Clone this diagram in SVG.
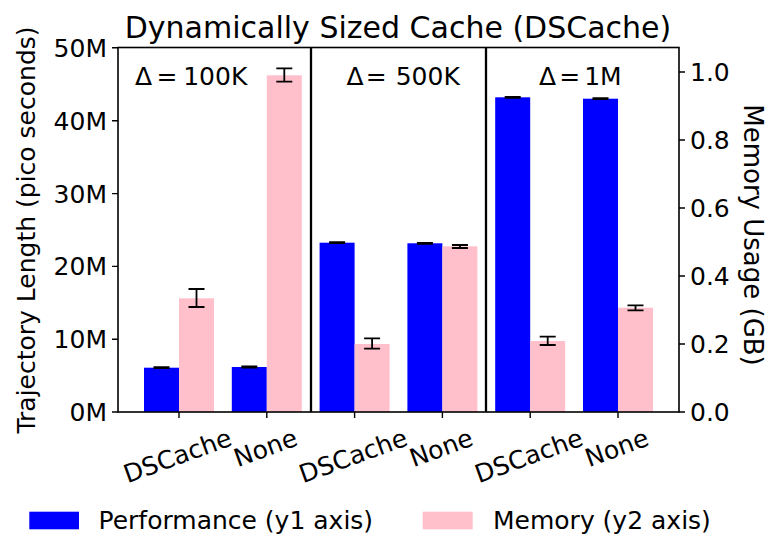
<svg xmlns="http://www.w3.org/2000/svg" width="767" height="534" viewBox="0 0 767 534">
<style>
text { font-family: "DejaVu Sans", "Liberation Sans", sans-serif; fill: #000; }
.t25 { font-size: 25px; }
.title { font-size: 30px; }
.perf { fill: #0000ff; }
.mem { fill: #ffc0cb; }
.err { stroke: #000; stroke-width: 1.8; fill: none; }
.errb { stroke: #000; stroke-width: 2.8; fill: none; }
.spine { stroke: #000; stroke-width: 1.6; fill: none; }
.div { stroke: #000; stroke-width: 2.3; }
.tick { stroke: #000; stroke-width: 1.4; }
</style>
<rect x="0" y="0" width="767" height="534" fill="#fff"/>

<g id="bars">
  <g id="g100k">
    <rect class="perf" x="144" y="367.7" width="35" height="44.3"/>
    <rect class="mem" x="179" y="298.3" width="35" height="113.7"/>
    <rect class="perf" x="231.8" y="367" width="35" height="45"/>
    <rect class="mem" x="266.8" y="75.3" width="35" height="336.7"/>
  </g>
  <g id="g500k">
    <rect class="perf" x="319.6" y="242.7" width="35" height="169.3"/>
    <rect class="mem" x="354.6" y="344" width="35" height="68"/>
    <rect class="perf" x="407.4" y="243.3" width="35" height="168.7"/>
    <rect class="mem" x="442.4" y="246.3" width="35" height="165.7"/>
  </g>
  <g id="g1m">
    <rect class="perf" x="495.2" y="97.3" width="35" height="314.7"/>
    <rect class="mem" x="530.2" y="341" width="35" height="71"/>
    <rect class="perf" x="583" y="98.7" width="35" height="313.3"/>
    <rect class="mem" x="618" y="307.7" width="35" height="104.3"/>
  </g>
</g>

<g id="errorbars">
  <path class="errb" d="M153.5 367.7H169.5M241.3 367H257.3M329.1 242.7H345.1M416.9 243.3H432.9M504.7 97.3H520.7M592.5 98.7H608.5"/>
  <path class="err" d="M196.5 289V307M188.5 289H204.5M188.5 307H204.5"/>
  <path class="err" d="M284.3 68.3V81.7M276.3 68.3H292.3M276.3 81.7H292.3"/>
  <path class="err" d="M372.1 338.3V348.7M364.1 338.3H380.1M364.1 348.7H380.1"/>
  <path class="err" d="M459.9 245V248M451.9 245H467.9M451.9 248H467.9"/>
  <path class="err" d="M547.7 336.7V345M539.7 336.7H555.7M539.7 345H555.7"/>
  <path class="err" d="M635.5 305.3V310.3M627.5 305.3H643.5M627.5 310.3H643.5"/>
</g>

<g id="axes">
  <rect class="spine" x="118" y="47.5" width="561" height="364.5"/>
  <line class="div" x1="311" y1="47.5" x2="311" y2="412"/>
  <line class="div" x1="486" y1="47.5" x2="486" y2="412"/>
  <path class="tick" d="M112 412H118M112 339.3H118M112 266.4H118M112 193.6H118M112 120.7H118M112 47.8H118"/>
  <path class="tick" d="M679 412H685M679 344H685M679 276H685M679 208H685M679 140H685M679 72H685"/>
  <path class="tick" d="M179 412V418M266.8 412V418M354.6 412V418M442.4 412V418M530.2 412V418M618 412V418"/>
</g>

<g id="yticks-left" class="t25" text-anchor="end">
  <text x="107" y="421">0M</text>
  <text x="107" y="348.3">10M</text>
  <text x="107" y="275.4">20M</text>
  <text x="107" y="202.6">30M</text>
  <text x="107" y="129.7">40M</text>
  <text x="107" y="56.8">50M</text>
</g>
<g id="yticks-right" class="t25">
  <text x="690" y="421">0.0</text>
  <text x="690" y="353">0.2</text>
  <text x="690" y="285">0.4</text>
  <text x="690" y="217">0.6</text>
  <text x="690" y="149">0.8</text>
  <text x="690" y="81">1.0</text>
</g>

<g id="xticks" class="t25" text-anchor="middle">
  <text transform="translate(180.5,464) rotate(-20)">DSCache</text>
  <text transform="translate(268.5,456) rotate(-20)">None</text>
  <text transform="translate(356.1,464) rotate(-20)">DSCache</text>
  <text transform="translate(444.1,456) rotate(-20)">None</text>
  <text transform="translate(531.7,464) rotate(-20)">DSCache</text>
  <text transform="translate(619.7,456) rotate(-20)">None</text>
</g>

<g id="panel-labels" class="t25">
  <text y="85"><tspan x="135">Δ</tspan><tspan x="156.5">=</tspan><tspan x="183.2">100K</tspan></text>
  <text y="85"><tspan x="346.5">Δ</tspan><tspan x="365.8">=</tspan><tspan x="395.7">500K</tspan></text>
  <text y="85"><tspan x="539">Δ</tspan><tspan x="559.2">=</tspan><tspan x="584.2">1M</tspan></text>
</g>

<text id="title" class="title" x="398" y="37.7" text-anchor="middle">Dynamically Sized Cache (DSCache)</text>
<text id="ylabel-left" class="t25" text-anchor="middle" transform="translate(35,230) rotate(-90)">Trajectory Length (pico seconds)</text>
<text id="ylabel-right" text-anchor="middle" font-size="26" transform="translate(744,235) rotate(90)">Memory Usage (GB)</text>

<g id="legend">
  <g id="legend-perf">
    <rect class="perf" x="29.3" y="511.7" width="49.7" height="17.6"/>
    <text class="t25" x="98.5" y="529.3">Performance (y1 axis)</text>
  </g>
  <g id="legend-mem">
    <rect class="mem" x="422.7" y="511.7" width="50" height="17.6"/>
    <text class="t25" x="493" y="529.3">Memory (y2 axis)</text>
  </g>
</g>
</svg>
